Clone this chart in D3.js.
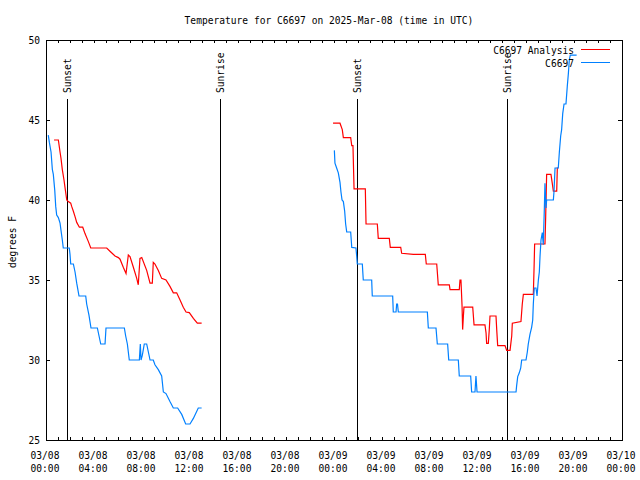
<!DOCTYPE html>
<html><head><meta charset="utf-8">
<script src="https://cdn.jsdelivr.net/npm/d3@7"></script>
<style>
html,body{margin:0;padding:0;background:#fff;}
svg text{font-family:"DejaVu Sans Mono",monospace;font-size:9.6px;fill:#000;}
</style></head>
<body>
<svg id="chart" width="640" height="480"></svg>
<script>
// Hours after 2025-03-08 00:00 UTC; null separates the two data periods
const analysisHours = [0.67,1.03,1.17,1.25,1.36,1.5,1.58,1.73,1.86,2.06,2.14,2.28,2.42,2.56,2.78,3.06,3.25,3.53,3.73,5.06,5.33,5.75,6.03,6.17,6.44,6.67,6.86,7.0,7.28,7.56,7.69,7.83,7.98,8.39,8.67,8.86,8.94,9.08,9.36,9.64,10.0,10.33,10.61,10.89,11.17,11.44,11.67,11.94,12.28,12.61,12.97,
 null,
 23.92,24.5,24.69,24.78,25.39,25.48,25.58,25.67,26.61,26.67,27.61,27.69,28.61,28.69,29.56,29.64,30.61,31.61,31.69,32.56,32.69,33.61,33.67,34.44,34.5,34.58,34.67,34.72,34.78,34.83,35.56,35.67,36.58,36.67,36.72,36.86,36.94,37.0,37.5,37.56,37.64,38.25,38.39,38.67,38.81,38.86,39.58,39.69,39.78,40.61,40.67,40.72,41.58,41.64,41.72,42.08,42.19,42.28,42.56,42.61,42.69];
const analysisTemps = [43.75,43.75,43.0,42.6,41.9,41.25,40.8,40.0,39.9,39.8,39.6,39.3,38.96,38.6,38.3,38.3,37.9,37.4,37.0,37.0,36.8,36.5,36.4,36.3,35.8,35.4,36.56,36.46,35.8,35.1,34.7,36.35,36.4,35.6,34.8,34.8,36.1,36.0,35.6,35.1,35.0,34.6,34.2,34.2,33.75,33.3,33.0,32.96,32.6,32.3,32.3,
 null,
 44.8,44.8,44.4,43.9,43.9,43.4,43.4,40.7,40.7,38.5,38.5,37.6,37.6,37.04,37.04,36.67,36.6,36.6,36.0,36.0,34.7,34.7,34.4,34.4,35.0,35.0,33.4,31.9,32.7,33.3,33.3,32.2,32.2,31.7,31.04,31.04,31.9,32.75,32.75,31.9,30.9,30.9,30.6,30.6,31.5,32.3,32.4,33.5,34.1,34.1,35.7,37.25,37.25,38.96,41.6,41.6,41.04,40.56,40.56,42.0,42.0];

const obsHours = [0.19,0.28,0.42,0.53,0.61,0.73,0.81,0.89,1.03,1.17,1.25,1.36,1.44,1.94,2.0,2.06,2.28,2.42,2.56,2.75,3.31,3.39,3.58,3.75,4.28,4.42,4.56,4.92,5.0,6.53,6.64,6.78,6.94,7.78,7.86,7.92,8.03,8.19,8.39,8.53,8.67,8.94,9.08,9.36,9.64,9.78,10.0,10.33,10.61,10.97,11.31,11.64,12.0,12.28,12.69,12.97,
 null,
 24.03,24.08,24.22,24.36,24.5,24.58,24.67,24.78,24.89,24.97,25.06,25.39,25.48,25.83,25.89,25.94,26.36,26.44,27.14,27.19,28.89,28.94,29.17,29.22,29.29,29.36,31.78,31.86,32.5,32.61,33.47,33.56,34.36,34.44,35.39,35.47,35.75,35.83,35.92,39.17,39.22,39.31,39.44,39.56,39.64,40.0,40.11,40.19,40.33,40.47,40.56,40.61,40.69,40.83,40.92,41.03,41.11,41.17,41.25,41.36,41.44,41.53,41.58,41.67,41.72,41.86,42.28,42.33,42.42,42.69,42.78,42.89,42.97,43.06,43.17,43.33,43.44,43.53,43.61,43.69,44.22];
const obsTemps = [44.06,43.6,43.0,41.9,41.6,40.6,39.6,39.06,38.9,38.56,38.1,37.5,37.0,37.0,36.6,36.0,36.0,35.5,34.8,34.0,34.0,33.5,32.8,32.0,32.0,31.5,31.0,31.0,32.0,32.0,31.5,31.0,30.0,30.0,31.0,30.0,30.3,31.0,31.0,30.5,30.0,30.0,29.7,29.4,29.0,28.0,27.9,27.4,27.0,27.0,26.6,26.0,26.0,26.35,27.0,27.0,
 null,
 43.1,42.3,42.0,41.7,41.1,40.5,40.0,39.9,39.3,38.5,38.0,38.0,37.04,37.0,36.5,36.0,36.0,35.0,35.0,34.0,34.0,33.0,33.0,33.5,33.5,33.0,33.0,32.0,32.0,31.0,31.0,30.0,30.0,29.0,29.0,28.0,28.0,29.0,28.0,28.0,28.4,28.96,29.2,29.5,30.0,30.0,30.5,31.0,31.6,32.04,32.5,33.5,34.5,34.5,34.0,35.0,35.5,36.5,37.5,37.96,37.2,39.5,41.04,39.5,40.0,40.0,40.0,40.5,42.0,42.0,43.0,44.0,44.4,45.4,46.0,46.0,47.1,47.9,48.75,49.06,49.06];

const sunEventLabels = ["Sunset","Sunrise","Sunset","Sunrise"];
const sunEventHours = [1.75,14.5,25.92,38.42];

const seriesNames = ["C6697 Analysis","C6697"];
const seriesColors = ["#ff0000","#0080ff"];
const yTicks = [25,30,35,40,45,50];
const titleText = "Temperature for C6697 on 2025-Mar-08 (time in UTC)";
const yLabel = "degrees F";

const t0 = Date.UTC(2025,2,8,0,0);
const toDate = h => new Date(t0 + h*3600000);

const svg = d3.select("#chart");
const L = 46, R = 622, T = 40, B = 440;
const x = d3.scaleUtc().domain([toDate(0), toDate(48)]).range([L, R]);
const y = d3.scaleLinear().domain([25,50]).range([B, T]);

// title
svg.append("text").attr("x", 329).attr("y", 23.5).attr("text-anchor","middle").text(titleText);

// y label
svg.append("text").attr("transform","translate(16,242) rotate(-90)").attr("text-anchor","middle").text(yLabel);

// x axis ticks (hourly, inward, top & bottom)
const hourTicks = x.ticks(d3.utcHour.every(1));
const g = svg.append("g").attr("shape-rendering","crispEdges");
hourTicks.forEach(d => {
  const xx = Math.round(x(d)) + 0.5;
  g.append("line").attr("x1",xx).attr("x2",xx).attr("y1",B).attr("y2",B-3).attr("stroke","#000");
  g.append("line").attr("x1",xx).attr("x2",xx).attr("y1",T).attr("y2",T+3).attr("stroke","#000");
});
// x labels every 4h
const fmtD = d3.utcFormat("%m/%d"), fmtT = d3.utcFormat("%H:%M");
x.ticks(d3.utcHour.every(4)).forEach(d => {
  const xx = x(d) - 1;
  svg.append("text").attr("x",xx).attr("y",459).attr("text-anchor","middle").text(fmtD(d));
  svg.append("text").attr("x",xx).attr("y",472).attr("text-anchor","middle").text(fmtT(d));
});
// y ticks
yTicks.forEach(v => {
  const yy = Math.round(y(v)) + 0.5;
  g.append("line").attr("x1",L).attr("x2",L+4).attr("y1",yy).attr("y2",yy).attr("stroke","#000");
  g.append("line").attr("x1",R).attr("x2",R-4).attr("y1",yy).attr("y2",yy).attr("stroke","#000");
  svg.append("text").attr("x",40).attr("y",y(v)+3.5).attr("text-anchor","end").text(v);
});
// frame
g.append("rect").attr("x",L+0.5).attr("y",T+0.5).attr("width",R-L).attr("height",B-T)
  .attr("fill","none").attr("stroke","#000");

// sun event lines
sunEventHours.forEach((h,i) => {
  const xx = Math.round(x(toDate(h))) + 0.5;
  g.append("line").attr("x1",xx).attr("x2",xx).attr("y1",99).attr("y2",B).attr("stroke","#000");
  svg.append("text").attr("transform",`translate(${xx+3.5},93) rotate(-90)`).attr("text-anchor","start").text(sunEventLabels[i]);
});

// series
const line = d3.line().defined(d => d[0] != null && d[1] != null)
  .x(d => x(toDate(d[0]))).y(d => y(d[1]));
const series = [
  analysisHours.map((h,i)=>[h, analysisTemps[i]]),
  obsHours.map((h,i)=>[h, obsTemps[i]])
];
series.forEach((s,i) => {
  svg.append("path").attr("d", line(s)).attr("fill","none").attr("stroke",seriesColors[i]).attr("stroke-width",1.2);
});

// legend
seriesNames.forEach((n,i) => {
  const yy = 50 + i*13;
  svg.append("text").attr("x",574).attr("y",yy+3.5).attr("text-anchor","end").text(n);
  svg.append("line").attr("x1",581).attr("x2",610).attr("y1",yy-0.5).attr("y2",yy-0.5)
    .attr("stroke",seriesColors[i]).attr("stroke-width",1.2).attr("shape-rendering","crispEdges");
});
</script>
</body></html>
